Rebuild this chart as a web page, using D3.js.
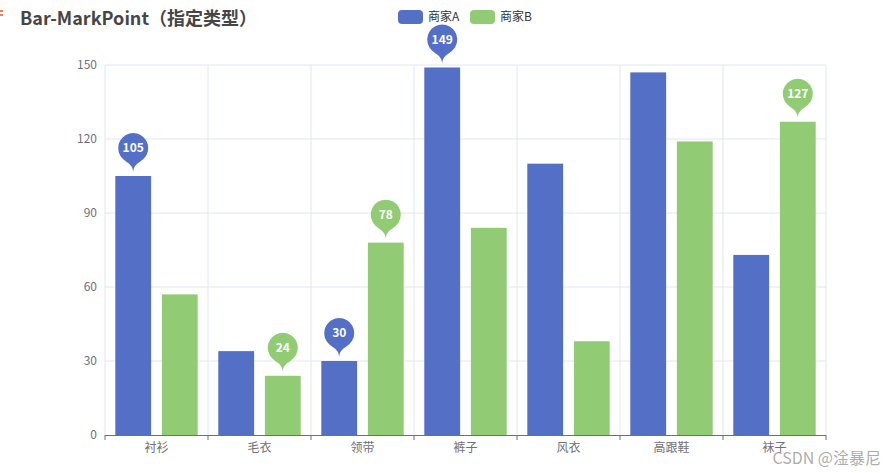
<!DOCTYPE html>
<html>
<head>
<meta charset="utf-8">
<script src="https://cdn.jsdelivr.net/npm/d3@7"></script>
<style>
  html, body { margin: 0; padding: 0; background: #fff; }
  svg { display: block; font-family: "Microsoft YaHei", "Noto Sans CJK SC", sans-serif; }
</style>
</head>
<body>
<div id="chart"></div>
<script>
const SVG_WIDTH = 884;
const SVG_HEIGHT = 473;
const MARGIN = { top: 65, right: 58, bottom: 38, left: 105 };
const WIDTH = SVG_WIDTH - MARGIN.left - MARGIN.right;
const HEIGHT = SVG_HEIGHT - MARGIN.top - MARGIN.bottom;

const TITLE = "Bar-MarkPoint（指定类型）";
const categories = ["衬衫", "毛衣", "领带", "裤子", "风衣", "高跟鞋", "袜子"];
const seriesNames = ["商家A", "商家B"];
const valuesA = [105, 34, 30, 149, 110, 147, 73];
const valuesB = [57, 24, 78, 84, 38, 119, 127];
const yTicks = [0, 30, 60, 90, 120, 150];
// categories that carry a mark point, per series
const markA = ["衬衫", "领带", "裤子"];
const markB = ["毛衣", "领带", "袜子"];

const COLORS = ["#5470c6", "#91cc75"];

const svg = d3.select("#chart").append("svg")
    .attr("width", SVG_WIDTH)
    .attr("height", SVG_HEIGHT);

const g = svg.append("g")
    .attr("transform", `translate(${MARGIN.left},${MARGIN.top})`);

const x = d3.scaleBand().domain(categories).range([0, WIDTH]);
const y = d3.scaleLinear().domain([0, 150]).range([HEIGHT, 0]);

// inner band for the two bars (ECharts-like 20% category gap, 30% bar gap)
const inner = x.bandwidth() * 0.8;
const barW = inner / 2.3;
const barX = i => x.bandwidth() * 0.1 + i * barW * 1.3;

// grid lines
g.append("g").selectAll("line.h")
    .data(yTicks.filter(d => d > 0))
    .join("line")
    .attr("x1", 0).attr("x2", WIDTH)
    .attr("y1", d => y(d)).attr("y2", d => y(d))
    .attr("stroke", "#e0e6f1");

const bounds = categories.map(c => x(c)).concat([WIDTH]);
g.append("g").selectAll("line.v")
    .data(bounds)
    .join("line")
    .attr("x1", d => d).attr("x2", d => d)
    .attr("y1", 0).attr("y2", HEIGHT)
    .attr("stroke", "#e0e6f1");

// y labels
g.append("g").selectAll("text")
    .data(yTicks)
    .join("text")
    .attr("x", -8)
    .attr("y", d => y(d))
    .attr("dy", "0.35em")
    .attr("text-anchor", "end")
    .attr("fill", "#6e7079")
    .style("font-size", "12px")
    .text(d => d);

// bars
const series = [valuesA, valuesB];
series.forEach((vals, si) => {
    g.append("g").selectAll("rect")
        .data(vals)
        .join("rect")
        .attr("x", (d, i) => x(categories[i]) + barX(si))
        .attr("y", d => y(d))
        .attr("width", barW)
        .attr("height", d => HEIGHT - y(d))
        .attr("fill", COLORS[si]);
});

// x axis
g.append("line")
    .attr("x1", 0).attr("x2", WIDTH)
    .attr("y1", HEIGHT + 0.5).attr("y2", HEIGHT + 0.5)
    .attr("stroke", "#6e7079");
g.append("g").selectAll("line")
    .data(bounds)
    .join("line")
    .attr("x1", d => d).attr("x2", d => d)
    .attr("y1", HEIGHT).attr("y2", HEIGHT + 5)
    .attr("stroke", "#6e7079");
g.append("g").selectAll("text")
    .data(categories)
    .join("text")
    .attr("x", d => x(d) + x.bandwidth() / 2)
    .attr("y", HEIGHT + 13)
    .attr("dy", "0.35em")
    .attr("text-anchor", "middle")
    .attr("fill", "#6e7079")
    .style("font-size", "12px")
    .text(d => d);

// pin symbol (ECharts style)
function pinPath(px, py) {
    const w = 30, h = 47;
    const r = w / 2;
    const dy = r * r / (h - r);
    const cy = py - h + r + dy;
    const angle = Math.asin(dy / r);
    const dx = Math.cos(angle) * r;
    const tanX = Math.sin(angle), tanY = Math.cos(angle);
    const cp = r * 0.6, cp2 = r * 0.7;
    const p = d3.path();
    p.moveTo(px - dx, cy + dy);
    p.arc(px, cy, r, Math.PI - angle, Math.PI * 2 + angle);
    p.bezierCurveTo(px + dx - tanX * cp, cy + dy + tanY * cp, px, py - cp2, px, py);
    p.bezierCurveTo(px, py - cp2, px - dx + tanX * cp, cy + dy + tanY * cp, px - dx, cy + dy);
    p.closePath();
    return p.toString();
}

[markA, markB].forEach((marks, si) => {
    const pts = marks.map(c => {
        const i = categories.indexOf(c);
        return { c, v: series[si][i] };
    });
    const mg = g.append("g").selectAll("g")
        .data(pts)
        .join("g")
        .attr("transform", d => `translate(${x(d.c) + barX(si) + barW / 2},${y(d.v) - 3})`);
    mg.append("path")
        .attr("d", pinPath(0, 0))
        .attr("fill", COLORS[si]);
    mg.append("text")
        .attr("y", -25)
        .attr("dy", "0.35em")
        .attr("text-anchor", "middle")
        .attr("fill", "#fff")
        .style("font-size", "12px")
        .style("font-weight", "600")
        .text(d => d.v);
});

// title
svg.append("text")
    .attr("x", 20)
    .attr("y", 25)
    .attr("fill", "#464646")
    .style("font-size", "18px")
    .style("font-weight", "bold")
    .text(TITLE);

svg.append("g").selectAll("line")
    .data([11, 15])
    .join("line")
    .attr("x1", 0).attr("x2", 3)
    .attr("y1", d => d).attr("y2", d => d)
    .attr("stroke", "#e8541e")
    .attr("stroke-width", 1.5);

// legend
const legend = svg.append("g").attr("transform", "translate(398,10)");
const li = legend.selectAll("g")
    .data(seriesNames)
    .join("g")
    .attr("transform", (d, i) => `translate(${i * 72},0)`);
li.append("rect")
    .attr("width", 25).attr("height", 14)
    .attr("rx", 4)
    .attr("fill", (d, i) => COLORS[i]);
li.append("text")
    .attr("x", 30).attr("y", 7)
    .attr("dy", "0.35em")
    .attr("fill", "#333")
    .style("font-size", "12px")
    .text(d => d);

// watermark
svg.append("text")
    .attr("x", 881)
    .attr("y", 464)
    .attr("text-anchor", "end")
    .attr("fill", "rgba(150,150,150,0.8)")
    .style("font-size", "16px")
    .text("CSDN @淦暴尼");
</script>
</body>
</html>
